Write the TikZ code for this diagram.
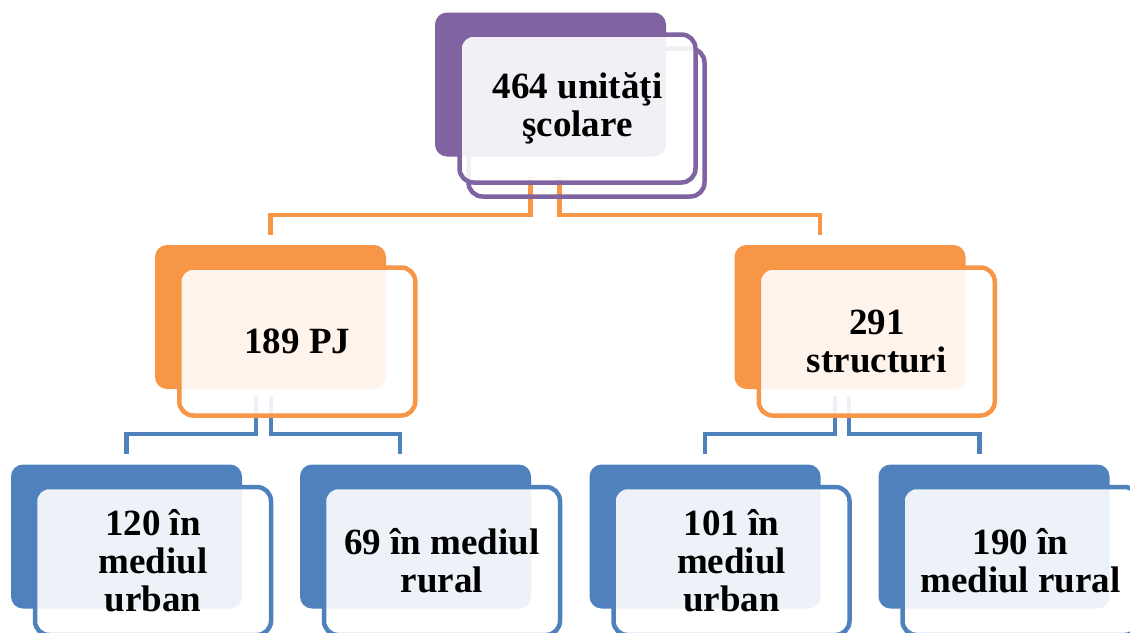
\documentclass[tikz,border=0pt]{standalone}
\usepackage{fontspec}
\setmainfont{Liberation Serif}
\usetikzlibrary{calc,backgrounds}
\definecolor{cpurple}{HTML}{8064A2}
\definecolor{corange}{HTML}{F79646}
\definecolor{cblue}{HTML}{4F81BD}
\tikzset{
  darkbox/.style={draw=none, fill=#1, rounded corners=12pt, minimum width=231pt, minimum height=144pt, inner sep=0pt, outer sep=0pt},
  tbox/.style={draw=#1, line width=4.5pt, fill=white, fill opacity=0.9, text opacity=1, rounded corners=14pt, minimum width=236pt, minimum height=148pt, inner sep=0pt, outer sep=0pt, align=center, font=\bfseries\fontsize{37}{38}\selectfont},
  ebox/.style={draw=#1, line width=4.5pt, fill=none, rounded corners=14pt, minimum width=236pt, minimum height=148pt, inner sep=0pt, outer sep=0pt},
  oconn/.style={draw=corange, line width=4.3pt},
  bconn/.style={draw=cblue, line width=4.3pt},
}
\begin{document}
\begin{tikzpicture}[x=1pt,y=-1pt]
\useasboundingbox (0,0) rectangle (1130,632);
\clip (0,0) rectangle (1130,632);
\coordinate (cTop) at (550.5,84.5);
\coordinate (cPJ) at (270.5,317);
\coordinate (cST) at (850,317);
\coordinate (cA) at (126.5,536.5);
\coordinate (cB) at (415.5,536.5);
\coordinate (cC) at (705,536.5);
\coordinate (cD) at (994,536.5);
% top node
\node[ebox=cpurple] (top2) at ($(cTop)+(36,38)$) {};
\node[darkbox=cpurple] (topD) at (cTop) {};
\node[tbox=cpurple] (top) at ($(cTop)+(27,24)$) {464 unităţi\\şcolare};
% level 2
\node[darkbox=corange] (pjD) at (cPJ) {};
\node[tbox=corange] (pj) at ($(cPJ)+(26.75,24.5)$) {189 PJ};
\node[darkbox=corange] (stD) at (cST) {};
\node[tbox=corange] (st) at ($(cST)+(26.75,24.5)$) {291\\structuri};
% level 3
\node[darkbox=cblue] (aD) at (cA) {};
\node[tbox=cblue] (a) at ($(cA)+(26.5,24.5)$) {120 în\\mediul\\urban};
\node[darkbox=cblue] (bD) at (cB) {};
\node[tbox=cblue] (b) at ($(cB)+(26.5,24.5)$) {69 în mediul\\rural};
\node[darkbox=cblue] (cD0) at (cC) {};
\node[tbox=cblue] (c) at ($(cC)+(26.5,24.5)$) {101 în\\mediul\\urban};
\node[darkbox=cblue] (dD) at (cD) {};
\node[tbox=cblue] (d) at ($(cD)+(26.5,24.5)$) {190 în\\mediul rural};
% connectors, under the boxes
\begin{pgfonlayer}{background}
\draw[oconn] ([xshift=-47pt,yshift=6pt]top.south) |- ([yshift=30pt]pjD.north) -- ([yshift=10pt]pjD.north);
\draw[oconn] ([xshift=-18pt,yshift=6pt]top.south) |- ([xshift=-30pt,yshift=30pt]stD.north) -- ([xshift=-30pt,yshift=10pt]stD.north);
\draw[bconn] ([xshift=-41pt,yshift=20pt]pj.south) |- ([yshift=30.5pt]aD.north) -- ([yshift=11pt]aD.north);
\draw[bconn] ([xshift=-26.5pt,yshift=20pt]pj.south) |- ([xshift=-15.5pt,yshift=30.5pt]bD.north) -- ([xshift=-15.5pt,yshift=11pt]bD.north);
\draw[bconn] ([xshift=-42pt,yshift=20pt]st.south) |- ([yshift=30.5pt]cD0.north) -- ([yshift=11pt]cD0.north);
\draw[bconn] ([xshift=-27.5pt,yshift=20pt]st.south) |- ([xshift=-14.5pt,yshift=30.5pt]dD.north) -- ([xshift=-14.5pt,yshift=11pt]dD.north);
\end{pgfonlayer}
\end{tikzpicture}
\end{document}
